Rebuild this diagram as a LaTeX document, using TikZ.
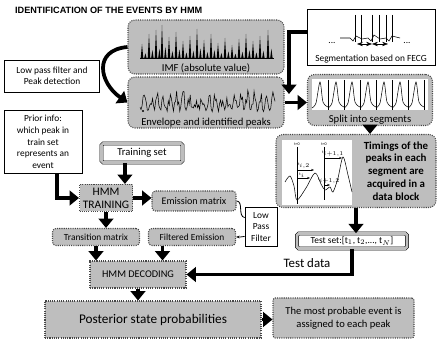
\documentclass[tikz,border=0pt]{standalone}
\usepackage{fontspec}
\setmainfont{Carlito}
\newfontfamily\titlefont{Liberation Sans}
\usepackage{tikz}
\usetikzlibrary{arrows.meta,positioning,calc}
\definecolor{boxGray}{RGB}{190,190,190}
\definecolor{frameGray}{RGB}{70,70,70}
\newcommand{\boxfont}{\fontsize{8}{9.5}\selectfont}

\tikzset{
  sz/.style 2 args={minimum width=#1*0.03cm, minimum height=#2*0.03cm},
  plainbox/.style={draw=black, fill=white, line width=0.6pt, align=center,
                   inner sep=1pt, font=\boxfont},
  graybox/.style={draw=frameGray, densely dotted, line width=0.9pt, fill=boxGray,
                  align=center, inner sep=1pt, font=\boxfont},
  roundbox/.style={graybox, rounded corners=6pt},
  pillbox/.style={graybox, rounded corners=3pt},
  framedbox/.style={draw=black, line width=0.5pt, double=boxGray, double distance=2.2pt,
                    fill=white, rounded corners=1.5pt, align=center, inner sep=1pt,
                    font=\fontsize{8}{9}\selectfont},
  panellabel/.style={anchor=south, font=\fontsize{9.1}{10}\selectfont, inner sep=1pt},
  bigarrow/.style={line width=3.2pt, -{Triangle[length=8pt,width=12.5pt]}},
  thinline/.style={line width=0.7pt},
  signal/.style={line width=0.45pt}
}

\begin{document}
\begin{tikzpicture}[x=0.03cm, y=-0.03cm]
\useasboundingbox (0,0) rectangle (439,346);

\node[anchor=west, font=\titlefont\bfseries\fontsize{7.8}{8}\selectfont] (title) at (11,10)
  {IDENTIFICATION OF THE EVENTS BY HMM};

% signal panels
\node[roundbox, sz={156}{54}, label={[panellabel]south:IMF (absolute value)}] (imf) at (206,47) {};
\node[roundbox, sz={156}{51}, label={[panellabel]south:Envelope and identified peaks}] (env) at (206,102.5) {};
\node[plainbox, sz={95}{32}] (lpd) at (52,76) {Low pass filter and\\Peak detection};
\node[plainbox, sz={128}{56}, label={[panellabel, font=\fontsize{8}{9}\selectfont, yshift=1pt]south:Segmentation based on FECG}] (seg) at (371,37) {};
\node[roundbox, sz={125}{51}, label={[panellabel]south:Split into segments}] (split) at (370,100) {};
\node[roundbox, sz={160}{73}] (timing) at (356,171) {};
\node[font=\bfseries\fontsize{9.3}{11}\selectfont, align=center] (timingtext) at (396,171)
  {Timings of the\\peaks in each\\segment are\\acquired in a\\data block};
\node[framedbox, sz={110}{15}] (testset) at (352,241) {Test set:[t$_1$, t$_2$,..., t$_N$]};

% training side
\node[plainbox, sz={78}{63}, font=\fontsize{8}{9.9}\selectfont] (prior) at (43,142)
  {Prior info:\\which peak in\\train set\\represents an\\event};
\node[framedbox, sz={81}{19}, font=\fontsize{9}{10}\selectfont] (trainset) at (142,153) {Training set};
\node[graybox, sz={53}{27}, font=\fontsize{9.8}{11}\selectfont] (hmmtrain) at (106,198) {HMM\\TRAINING};
\node[pillbox, sz={84}{20}, font=\fontsize{8.6}{10}\selectfont] (emission) at (194,201) {Emission matrix};
\node[plainbox, sz={32}{39}] (lpf) at (261,227) {Low\\Pass\\Filter};
\node[pillbox, sz={87}{17}] (filtered) at (192,237) {Filtered Emission};
\node[pillbox, sz={87}{17}] (transition) at (96,237) {Transition matrix};
\node[graybox, sz={96}{27}, font=\fontsize{8.8}{10}\selectfont] (decoding) at (138,274.5) {HMM DECODING};
\node[graybox, sz={216}{37}, font=\fontsize{11.3}{13}\selectfont] (posterior) at (153,319.5)
  {Posterior state probabilities};
\node[graybox, rounded corners=2pt, sz={141}{40}, font=\fontsize{9}{11}\selectfont] (mostprob) at (343.5,318)
  {The most probable event is\\assigned to each peak};

% IMF spikes
\foreach \x/\h in {142/14,149/24,156/28,162/33,169/21,176/26,183/17,190/22,197/29,
                   204/18,211/24,218/15,225/20,232/13,239/19,246/24,253/17,260/22,268/28}{
  \fill (\x-1.3,58) -- (\x,58-\h) -- (\x+1.3,58) -- cycle;
  \fill (\x+2.2,58) -- (\x+3.4,58-\h/3) -- (\x+4.6,58) -- cycle;
}
\draw[signal] (140,58) -- (274,58);

% envelope
\pgfmathsetseed{7}
\draw[signal] plot[domain=140:275, samples=130] (\x, {112-(5+17*rnd)*abs(sin(28*\x))});
\fill (143,111) circle (1.2);

% segmentation sketch
\draw[signal] (340,38) -- (350,38) -- (353,41) -- (356,36) -- (362,39) -- (368,38) -- (371,41)
  -- (374,35) -- (380,39) -- (386,38) -- (389,41) -- (392,36) -- (400,38);
\foreach \x in {355,361,372,379,386,392}
  \draw[signal] (\x,15) -- (\x,42);
\draw[signal, <->, >=Stealth] (357,44) -- (372,44);
\draw[signal, <->, >=Stealth] (372,44) -- (388,44);
\node[font=\boxfont, inner sep=0pt] (dotsleft) at (332,43) {...};
\node[font=\boxfont, inner sep=0pt] (dotsright) at (407,43) {...};

% split segments
\fill[white] (312,79) rectangle (428,110);
\foreach \x in {312,328,344,360,376,392,408}{
  \draw[signal] plot[smooth] coordinates {(\x,108) (\x+4,103) (\x+8,82) (\x+11,102) (\x+16,107)};
  \draw[signal] (\x+16,80) -- (\x+16,110);
}

% timing sketch
\fill[white] (282,140) rectangle (352,205);
\draw[signal] (297,147) -- (297,204);
\draw[signal] (324,147) -- (324,200);
\draw[signal] plot[smooth] coordinates {(285,182) (290,176) (294,186) (297,200) (306,188)
  (315,173) (321,184) (325,190) (330,187) (333,192) (338,178) (343,157) (348,175) (352,192)};
\draw[signal, -{Stealth[length=2.5pt]}] (297,170) -- (314,170);
\draw[signal, -{Stealth[length=2.5pt]}] (297,178) -- (310,178);
\draw[signal, -{Stealth[length=2.5pt]}] (324,158) -- (342,158);
\draw[signal, -{Stealth[length=2.5pt]}] (324,185) -- (330,185);
\node[font=\fontsize{3.5}{4}\selectfont, inner sep=0pt] (tzeroa) at (297,144) {t=0};
\node[font=\fontsize{3.5}{4}\selectfont, inner sep=0pt] (tzerob) at (324,144) {t=0};
\node[font=\fontsize{3.5}{4}\selectfont, inner sep=0pt] (tia) at (304,166) {t$_{i,2}$};
\node[font=\fontsize{3.5}{4}\selectfont, inner sep=0pt] (tib) at (302,175) {t$_{i}$};
\node[font=\fontsize{3.5}{4}\selectfont, inner sep=0pt] (tic) at (333,154) {t$_{i+1,1}$};
\node[font=\fontsize{3.5}{4}\selectfont, inner sep=0pt] (tid) at (329,181) {t$_{i+1,2}$};

% connectors
\draw[bigarrow] (imf.west) to[out=185,in=145,looseness=1.6] (env.west);
\coordinate (segdrop) at (289,94);
\draw[bigarrow] ([yshift=0.15cm]seg.west) -| (segdrop);
\draw[bigarrow] (env.east) -- (env.east -| split.west);
\draw[bigarrow] (split.south) -- (split.south |- timing.north);
\draw[bigarrow] (timing.south) -- (timing.south |- testset.north);
\draw[bigarrow] (testset.south) |- (decoding.east);
\node[font=\fontsize{11}{12}\selectfont] (testdata) at (307,263) {Test data};

\draw[bigarrow] ([xshift=0.42cm]prior.south) |- (hmmtrain.west);
\coordinate (trainin) at ($(hmmtrain.north)!0.7!(hmmtrain.north east)$);
\draw[bigarrow] (trainset.south -| trainin) -- (trainin);
\draw[bigarrow] (hmmtrain.east) -- (hmmtrain.east -| emission.west);
\draw[bigarrow] (hmmtrain.south) -- (hmmtrain.south |- transition.north);
\draw[thinline] (emission.east) to[out=0,in=170] (lpf.150);
\draw[thinline, -{Stealth[length=3pt]}] (lpf.210) to[out=190,in=0] (filtered.east);
\draw[bigarrow] (transition.south) -- (transition.south |- decoding.north);
\coordinate (filtout) at ($(filtered.south)!0.67!(filtered.south west)$);
\draw[bigarrow] (filtout) -- (filtout |- decoding.north);
\draw[bigarrow] (decoding.south) -- (decoding.south |- posterior.north);
\draw[bigarrow] (posterior.east) -- (posterior.east -| mostprob.west);
\end{tikzpicture}
\end{document}
